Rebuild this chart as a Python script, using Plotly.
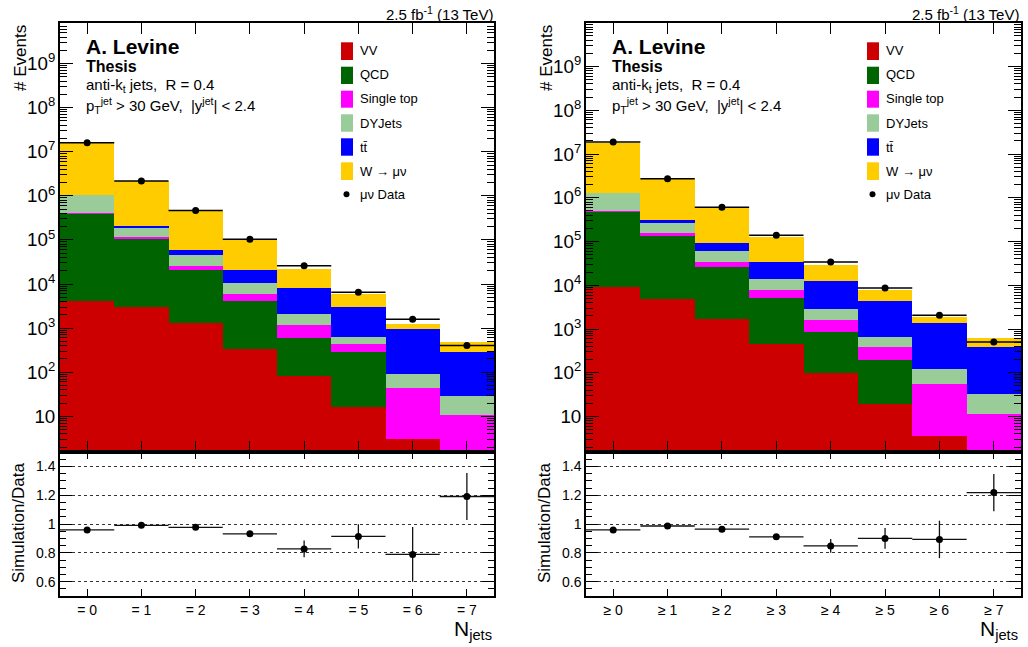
import plotly.graph_objects as go

# ---------------- data ----------------
bins = [0, 1, 2, 3, 4, 5, 6, 7]
labels_excl = ["= 0", "= 1", "= 2", "= 3", "= 4", "= 5", "= 6", "= 7"]
labels_incl = ["\u2265 0", "\u2265 1", "\u2265 2", "\u2265 3", "\u2265 4", "\u2265 5", "\u2265 6", "\u2265 7"]

samples = ["VV", "QCD", "Single top", "DYJets", "tt\u0304", "W \u2192 \u03bc\u03bd"]
colors = ["#cc0000", "#006400", "#ff00ff", "#99cc99", "#0000ff", "#ffcc00"]

# exclusive N_jets (left)
excl_VV = [4100, 3030, 1290, 337, 82, 16.5, 3.05, 0.5]
excl_QCD = [402000, 103000, 19700, 3810, 528, 276, 0, 0]
excl_ST = [3000, 10000, 5300, 1930, 570, 153, 41.6, 10.2]
excl_DY = [650000, 79000, 19700, 4520, 920, 185, 48, 18.1]
excl_TT = [10000, 7000, 11700, 10400, 6220, 2450, 866, 264]
excl_W = [14380000, 1938000, 400000, 76200, 13100, 2890, 296, 185]
excl_data = [16100000, 2160000, 467000, 104000, 25900, 6530, 1590, 401]
excl_ratio = [0.959, 0.991, 0.977, 0.932, 0.827, 0.914, 0.789, 1.191]
excl_ratio_err = [0.008, 0.005, 0.006, 0.008, 0.058, 0.084, 0.19, 0.163]

# inclusive N_jets (right)
incl_VV = [8950, 4760, 1690, 444, 99.5, 19.8, 3.6, 0.5]
incl_QCD = [472000, 131000, 24800, 4730, 764, 174, 0, 0]
incl_ST = [9000, 18000, 8000, 2720, 737, 198, 51.2, 11.2]
incl_DY = [800000, 115000, 27200, 5710, 1210, 261, 70, 21.9]
incl_TT = [20000, 41000, 30800, 20400, 9690, 3700, 1240, 358]
incl_W = [16820000, 2380000, 493000, 92600, 16300, 3420, 492, 228]
incl_data = [18900000, 2730000, 607000, 139000, 34000, 8630, 2080, 509]
incl_ratio = [0.959, 0.986, 0.964, 0.911, 0.848, 0.900, 0.893, 1.218]
incl_ratio_err = [0.006, 0.005, 0.006, 0.008, 0.048, 0.072, 0.13, 0.13]

# ---------------- helpers ----------------
W_PX, H_PX = 1028, 647
FONT = "Liberation Sans, Arial, Helvetica, sans-serif"


def fx(x):
    return x / W_PX


def fy(y):
    return 1 - y / H_PX


fig = go.Figure()

panels = [
    dict(stack=[excl_VV, excl_QCD, excl_ST, excl_DY, excl_TT, excl_W], data=excl_data,
         ratio=excl_ratio, rerr=excl_ratio_err, labels=labels_excl,
         xt="x", yt="y", xr="x2", yr="y2", dx=0, ymax=9.92),
    dict(stack=[incl_VV, incl_QCD, incl_ST, incl_DY, incl_TT, incl_W], data=incl_data,
         ratio=incl_ratio, rerr=incl_ratio_err, labels=labels_incl,
         xt="x3", yt="y3", xr="x4", yr="y4", dx=526, ymax=9.995),
]

for p in panels:
    for name, vals, col in zip(samples, p["stack"], colors):
        fig.add_trace(go.Bar(x=bins, y=vals, name=name, marker=dict(color=col, line=dict(width=0)),
                             width=1.0, xaxis=p["xt"], yaxis=p["yt"], showlegend=False))
    fig.add_trace(go.Scatter(x=bins, y=p["data"], mode="markers", name="\u03bc\u03bd Data",
                             marker=dict(color="black", size=7),
                             error_x=dict(type="data", array=[0.5] * len(bins), width=0,
                                          color="black", thickness=1.5),
                             xaxis=p["xt"], yaxis=p["yt"], showlegend=False))
    fig.add_trace(go.Scatter(x=bins, y=p["ratio"], mode="markers", name="ratio",
                             marker=dict(color="black", size=7),
                             error_x=dict(type="data", array=[0.5] * len(bins), width=0,
                                          color="#111", thickness=1.3),
                             error_y=dict(type="data", array=p["rerr"], width=0,
                                          color="#111", thickness=1.3),
                             xaxis=p["xr"], yaxis=p["yr"], showlegend=False))

fig.update_layout(barmode="stack", bargap=0)

xdom_l = [fx(60), fx(494)]
xdom_r = [fx(586), fx(1021)]
ydom_t = [fy(452), fy(23)]
ydom_r = [fy(596), fy(452)]

common_x = dict(range=[-0.5, 7.5], tickmode="array", tickvals=bins, ticks="inside",
                showline=True, linecolor="black", linewidth=1.5, mirror="allticks",
                showgrid=False, zeroline=False, tickcolor="black", automargin=False)
top_y = dict(type="log", dtick=1, tick0=0, exponentformat="power", ticks="inside", ticklen=13,
             tickcolor="black", showline=True, linecolor="black", linewidth=1.5,
             mirror="allticks", showgrid=False, zeroline=False, automargin=False,
             tickfont=dict(family=FONT, size=15, color="black"),
             minor=dict(ticks="inside", ticklen=7, tickcolor="black", dtick="D1", showgrid=False))
ratio_y = dict(range=[0.5, 1.5], tick0=0.6, dtick=0.2, ticks="inside", ticklen=12,
               tickcolor="black", showline=True, linecolor="black", linewidth=1.5,
               mirror="allticks", showgrid=True, gridcolor="#333", griddash="dot", gridwidth=1,
               zeroline=False, automargin=False, tickfont=dict(family=FONT, size=14, color="black"),
               minor=dict(ticks="inside", ticklen=6, tickcolor="black", dtick=0.05, tick0=0.5,
                          showgrid=False))

fig.update_layout(
    width=W_PX, height=H_PX, margin=dict(l=0, r=0, t=0, b=0, pad=0, autoexpand=False),
    paper_bgcolor="white", plot_bgcolor="white",
    font=dict(family=FONT, color="black"),
    xaxis=dict(domain=xdom_l, anchor="y", showticklabels=False, ticklen=11, **common_x),
    yaxis=dict(domain=ydom_t, anchor="x", range=[0.19, panels[0]["ymax"]], **top_y),
    xaxis2=dict(domain=xdom_l, anchor="y2", ticktext=labels_excl, ticklen=7,
                tickfont=dict(family=FONT, size=14, color="black"), **common_x),
    yaxis2=dict(domain=ydom_r, anchor="x2", **ratio_y),
    xaxis3=dict(domain=xdom_r, anchor="y3", showticklabels=False, ticklen=11, **common_x),
    yaxis3=dict(domain=ydom_t, anchor="x3", range=[0.19, panels[1]["ymax"]], **top_y),
    xaxis4=dict(domain=xdom_r, anchor="y4", ticktext=labels_incl, ticklen=7,
                tickfont=dict(family=FONT, size=14, color="black"), **common_x),
    yaxis4=dict(domain=ydom_r, anchor="x4", **ratio_y),
)

annotations = []
shapes = []
leg_rows = [(42.3, 60.0, 51), (66.7, 84.0, 75), (90.7, 107.7, 99), (114.3, 131.7, 123.3),
            (138.3, 155.7, 147.5), (162.3, 180.0, 171)]
for p in panels:
    dx = p["dx"]

    def ann(text, x, y, size, xanchor="left", yanchor="middle", angle=0, bold=False):
        annotations.append(dict(text=("<b>%s</b>" % text) if bold else text,
                                x=fx(x + dx), y=fy(y), xref="paper", yref="paper",
                                xanchor=xanchor, yanchor=yanchor, showarrow=False,
                                textangle=angle,
                                font=dict(family=FONT, size=size, color="black")))

    ann("A. Levine", 84, 46, 21, bold=True)
    ann("Thesis", 84, 66, 16, bold=True)
    ann("anti-k<sub>t</sub> jets,  R = 0.4", 84, 85, 15)
    ann("p<sub>T</sub><sup>jet</sup> &gt; 30 GeV,  |y<sup>jet</sup>| &lt; 2.4", 84, 106, 15)
    ann("2.5 fb<sup>-1</sup> (13 TeV)", 495, 13, 15, xanchor="right")
    ann("# Events", 20, 23, 17, xanchor="center", yanchor="top", angle=-90)
    ann("Simulation/Data", 18, 523, 17, xanchor="center", angle=-90)
    ann("N<sub>jets</sub>", 494, 630, 21, xanchor="right")

    for (y0, y1, yc), name, col in zip(leg_rows, samples, colors):
        shapes.append(dict(type="rect", xref="paper", yref="paper",
                           x0=fx(341 + dx), x1=fx(353 + dx), y0=fy(y1), y1=fy(y0),
                           fillcolor=col, line=dict(width=0)))
        ann(name, 358, yc, 13)
    shapes.append(dict(type="circle", xref="paper", yref="paper",
                       x0=fx(343.5 + dx), x1=fx(349.5 + dx), y0=fy(197.3), y1=fy(191.3),
                       fillcolor="black", line=dict(width=0)))
    ann("\u03bc\u03bd Data", 358, 194.3, 13)

fig.update_layout(annotations=annotations, shapes=shapes)

fig.write_html("out.html", config={"displayModeBar": False},
               post_script="document.body.style.margin='0';")
